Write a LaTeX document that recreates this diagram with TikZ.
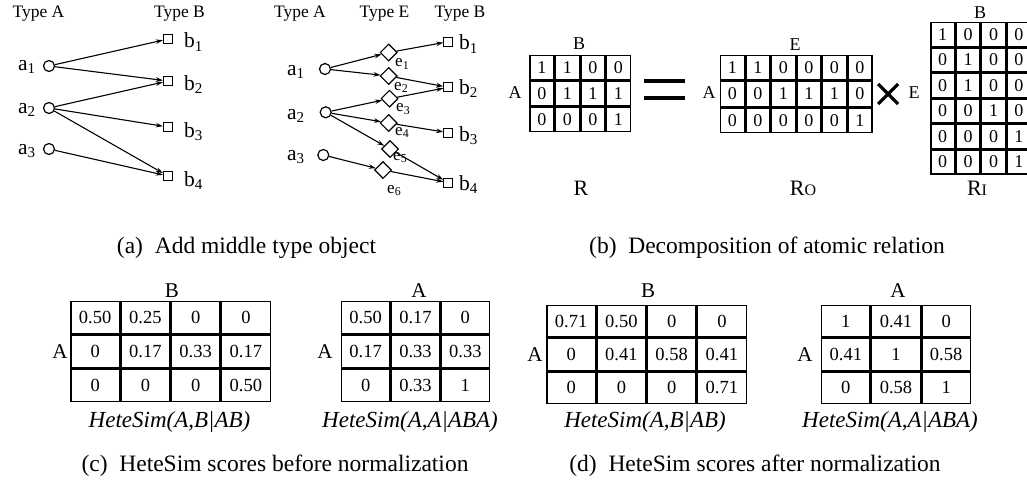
\documentclass[tikz,border=0pt]{standalone}
\usepackage{fontspec}
\setmainfont{Liberation Serif}
\usetikzlibrary{matrix,arrows.meta,shapes.geometric}
\newcommand{\fsz}[1]{\fontsize{#1}{#1}\selectfont}
\tikzset{
  vtx/.style={circle,draw,line width=1.2pt,minimum size=11pt,inner sep=0pt},
  bsq/.style={rectangle,draw,line width=1.2pt,minimum size=9pt,inner sep=0pt},
  ediam/.style={diamond,draw,line width=1.1pt,minimum size=17pt,inner sep=0pt},
  edg/.style={line width=1.1pt,-{Stealth[length=7pt,width=4.5pt]}},
  typelbl/.style={font=\fsz{17.5},inner sep=0pt,anchor=base},
  glbl/.style={font=\fsz{21.5},inner sep=0pt,anchor=base west},
  elbl/.style={font=\fsz{17},inner sep=0pt,anchor=base west},
  mlbl/.style={font=\fsz{18},inner sep=0pt},
  blbl/.style={font=\fsz{21},inner sep=0pt},
  caption/.style={font=\fsz{23.5},inner sep=0pt},
  hcap/.style={font=\fsz{23}\itshape,inner sep=0pt},
  rlbl/.style={font=\fsz{22},inner sep=0pt,anchor=base},
  mat/.style={matrix of nodes,inner sep=0pt,outer sep=0pt,column sep=0pt,row sep=0pt,
    nodes={draw,line width=1.5pt,outer sep=0pt,inner sep=0pt,anchor=center}},
  smat/.style={mat,nodes={font=\fsz{18}}},
  bmat/.style={mat,nodes={font=\fsz{18.5}}},
  bigsym/.style={line width=3.2pt}
}
\begin{document}
\begin{tikzpicture}[x=1pt,y=-1pt]
\fill[white] (0,0) rectangle (1027,503);
\useasboundingbox (0,0) rectangle (1027,503);

% ---------- (a) left graph ----------
\node[typelbl] (tA1) at (38.5,17.3) {Type A};
\node[typelbl] (tB1) at (179.5,17.3) {Type B};
\node[vtx] (la1) at (49,66) {};
\node[vtx] (la2) at (49,108) {};
\node[vtx] (la3) at (49,149) {};
\node[bsq] (lb1) at (168,39) {};
\node[bsq] (lb2) at (168,81) {};
\node[bsq] (lb3) at (168,127) {};
\node[bsq] (lb4) at (168,176) {};
\node[glbl] (la1t) at (18,70.7) {a\textsubscript{1}};
\node[glbl] (la2t) at (18,113) {a\textsubscript{2}};
\node[glbl] (la3t) at (18,154) {a\textsubscript{3}};
\node[glbl] (lb1t) at (184,48) {b\textsubscript{1}};
\node[glbl] (lb2t) at (184,90) {b\textsubscript{2}};
\node[glbl] (lb3t) at (184,137) {b\textsubscript{3}};
\node[glbl] (lb4t) at (184,186) {b\textsubscript{4}};
\draw[edg] (la1) -- (lb1);
\draw[edg] (la1) -- (lb2);
\draw[edg] (la2) -- (lb2);
\draw[edg] (la2) -- (lb3);
\draw[edg] (la2) -- (lb4);
\draw[edg] (la3) -- (lb4);

% ---------- (a) right graph ----------
\node[typelbl] (tA2) at (300,17.3) {Type A};
\node[typelbl] (tE2) at (384.5,17.3) {Type E};
\node[typelbl] (tB2) at (460,17.3) {Type B};
\node[vtx] (ra1) at (325,69) {};
\node[vtx] (ra2) at (325.7,112.3) {};
\node[vtx] (ra3) at (323.3,155) {};
\node[ediam] (e1) at (388.7,52.5) {};
\node[ediam] (e2) at (388.7,76) {};
\node[ediam] (e3) at (389.5,98.7) {};
\node[ediam] (e4) at (388.7,123) {};
\node[ediam] (e5) at (390,149) {};
\node[ediam] (e6) at (383,170) {};
\node[bsq] (rb1) at (448.3,41.7) {};
\node[bsq] (rb2) at (448.3,87.3) {};
\node[bsq] (rb3) at (448.3,132.7) {};
\node[bsq] (rb4) at (448.3,182.7) {};
\node[glbl] (ra1t) at (287,75) {a\textsubscript{1}};
\node[glbl] (ra2t) at (287,119) {a\textsubscript{2}};
\node[glbl] (ra3t) at (287,160) {a\textsubscript{3}};
\node[glbl] (rb1t) at (459,50) {b\textsubscript{1}};
\node[glbl] (rb2t) at (459,94) {b\textsubscript{2}};
\node[glbl] (rb3t) at (459,141) {b\textsubscript{3}};
\node[glbl] (rb4t) at (459,190) {b\textsubscript{4}};
\node[elbl] (e1t) at (395,66.7) {e\textsubscript{1}};
\node[elbl] (e2t) at (394,90) {e\textsubscript{2}};
\node[elbl] (e3t) at (396,111.7) {e\textsubscript{3}};
\node[elbl] (e4t) at (395,135) {e\textsubscript{4}};
\node[elbl] (e5t) at (393,160) {e\textsubscript{5}};
\node[elbl] (e6t) at (387,193) {e\textsubscript{6}};
\draw[edg] (ra1) -- (e1);
\draw[edg] (ra1) -- (e2);
\draw[edg] (ra2) -- (e3);
\draw[edg] (ra2) -- (e4);
\draw[edg] (ra2) -- (e5);
\draw[edg] (ra3) -- (e6);
\draw[edg] (e1) -- (rb1);
\draw[edg] (e2) -- (rb2);
\draw[edg] (e3) -- (rb2);
\draw[edg] (e4) -- (rb3);
\draw[edg] (e5) -- (rb4);
\draw[edg] (e6) -- (rb4);

\node[caption] (capa) at (246.5,248) {(a)~~Add middle type object};

% ---------- (b) decomposition ----------
\matrix (mR) [smat,nodes={minimum width=24pt,minimum height=24.33pt}] at (580,93.5) {
1 & 1 & 0 & 0\\
0 & 1 & 1 & 1\\
0 & 0 & 0 & 1\\
};
\node[mlbl] (mRB) at (579,44) {B};
\node[mlbl] (mRA) at (515,93) {A};
\draw[bigsym] (644,81) -- (685,81);
\draw[bigsym] (644,98) -- (685,98);

\matrix (mRo) [smat,nodes={minimum width=24pt,minimum height=24.67pt}] at (796,94) {
1 & 1 & 0 & 0 & 0 & 0\\
0 & 0 & 1 & 1 & 1 & 0\\
0 & 0 & 0 & 0 & 0 & 1\\
};
\node[mlbl] (mRoE) at (795,45) {E};
\node[mlbl] (mRoA) at (709,93) {A};
\draw[bigsym] (878,84) -- (898,104);
\draw[bigsym] (878,104) -- (898,84);
\node[mlbl] (mRiE) at (914,93) {E};

\matrix (mRi) [smat,nodes={minimum width=23.9pt,minimum height=24pt}] at (980.8,98) {
1 & 0 & 0 & 0\\
0 & 1 & 0 & 0\\
0 & 1 & 0 & 0\\
0 & 0 & 1 & 0\\
0 & 0 & 0 & 1\\
0 & 0 & 0 & 1\\
};
\node[mlbl] (mRiB) at (980,12.5) {B};

\node[rlbl] (lR) at (581,195) {R};
\node[rlbl] (lRo) at (803,195) {R{\fsz{16}O}};
\node[rlbl] (lRi) at (977,195) {R{\fsz{16}I}};

\node[caption] (capb) at (767,248) {(b)~~Decomposition of atomic relation};

% ---------- (c) before normalization ----------
\matrix (mc1) [bmat,nodes={minimum width=48.75pt,minimum height=32.33pt}] at (170.5,351.5) {
0.50 & 0.25 & 0 & 0\\
0 & 0.17 & 0.33 & 0.17\\
0 & 0 & 0 & 0.50\\
};
\node[blbl] (mc1B) at (172,291) {B};
\node[blbl] (mc1A) at (60,352) {A};
\node[hcap] (hc1) at (169.5,422) {HeteSim(A,B|AB)};

\matrix (mc2) [bmat,nodes={minimum width=48.33pt,minimum height=32.33pt}] at (415.5,351.5) {
0.50 & 0.17 & 0\\
0.17 & 0.33 & 0.33\\
0 & 0.33 & 1\\
};
\node[blbl] (mc2At) at (419,291) {A};
\node[blbl] (mc2A) at (325,352) {A};
\node[hcap] (hc2) at (410,422) {HeteSim(A,A|ABA)};

\node[caption] (capc) at (275,466) {(c)~~HeteSim scores before normalization};

% ---------- (d) after normalization ----------
\matrix (md1) [bmat,nodes={minimum width=48.75pt,minimum height=31.67pt}] at (646.5,354.5) {
0.71 & 0.50 & 0 & 0\\
0 & 0.41 & 0.58 & 0.41\\
0 & 0 & 0 & 0.71\\
};
\node[blbl] (md1B) at (648,291) {B};
\node[blbl] (md1A) at (535,355) {A};
\node[hcap] (hd1) at (645,422) {HeteSim(A,B|AB)};

\matrix (md2) [bmat,nodes={minimum width=48.67pt,minimum height=31.67pt}] at (896,354.5) {
1 & 0.41 & 0\\
0.41 & 1 & 0.58\\
0 & 0.58 & 1\\
};
\node[blbl] (md2At) at (898,291) {A};
\node[blbl] (md2A) at (805,355) {A};
\node[hcap] (hd2) at (890,422) {HeteSim(A,A|ABA)};

\node[caption] (capd) at (755,466) {(d)~~HeteSim scores after normalization};
\end{tikzpicture}
\end{document}
